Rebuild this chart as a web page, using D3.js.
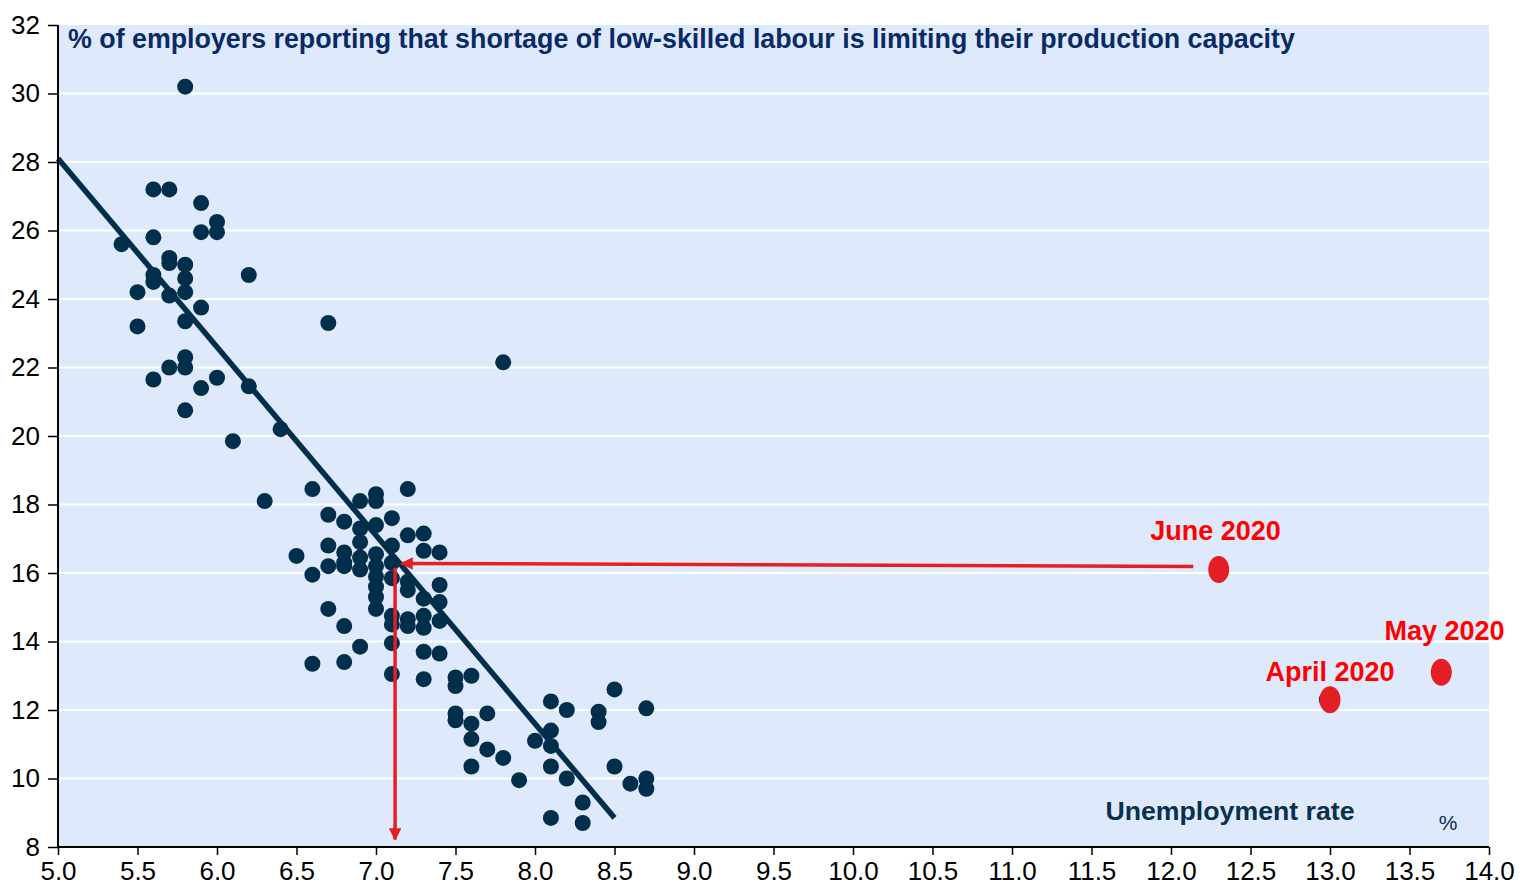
<!DOCTYPE html>
<html>
<head>
<meta charset="utf-8">
<script src="https://d3js.org/d3.v7.min.js"></script>
<style>
  body { margin: 0; background: #fff; }
  svg { font-family: "Liberation Sans", Arial, sans-serif; }
</style>
</head>
<body>
<svg id="chart" width="1530" height="886"></svg>
<script>
// unemployment rate (%) and % of employers reporting shortage, monthly history
var unemp = [5.8, 5.6, 5.7, 5.9, 6.0, 6.0, 5.9, 5.4, 5.6, 5.7, 5.7, 5.8, 5.6, 5.6, 5.8,
  5.5, 5.7, 5.8, 5.9, 5.8, 5.5, 6.2, 6.7, 5.8, 5.8, 5.7, 5.6, 6.0, 5.9, 6.2,
  5.8, 6.1, 6.4, 6.3, 7.8, 6.6, 7.2, 7.0, 7.0, 6.9, 6.7, 6.8, 7.1, 7.0, 6.9,
  7.3, 7.2, 6.9, 7.1, 6.7, 6.8, 7.3, 7.4, 7.0, 6.5, 6.9, 6.8, 6.7, 6.8, 6.9,
  7.0, 7.1, 6.6, 7.0, 7.1, 7.2, 7.0, 7.2, 7.4, 7.0, 7.3, 7.4, 6.7, 7.0, 7.1,
  7.2, 7.3, 7.4, 7.1, 7.2, 7.3, 6.8, 7.1, 6.9, 7.3, 7.4, 6.6, 6.8, 7.1, 7.5,
  7.6, 7.3, 7.5, 7.5, 7.5, 7.7, 7.6, 7.6, 7.7, 7.8, 7.6, 7.9, 8.0, 8.1, 8.1,
  8.1, 8.2, 8.1, 8.2, 8.4, 8.4, 8.5, 8.7, 8.5, 8.6, 8.7, 8.7, 8.3, 8.1, 8.3, 12.98];
var shortage = [30.2, 27.2, 27.2, 26.8, 26.25, 25.95, 25.95, 25.6, 25.8, 25.2, 25.05, 25.0, 24.7, 24.5, 24.6,
  24.2, 24.1, 24.2, 23.75, 23.35, 23.2, 24.7, 23.3, 22.3, 22.0, 22.0, 21.65, 21.7, 21.4, 21.45,
  20.75, 19.85, 20.2, 18.1, 22.15, 18.45, 18.45, 18.3, 18.1, 18.1, 17.7, 17.5, 17.6, 17.4, 17.3,
  17.15, 17.1, 16.9, 16.8, 16.8, 16.6, 16.65, 16.6, 16.55, 16.5, 16.45, 16.3, 16.2, 16.2, 16.1,
  16.2, 16.3, 15.95, 15.9, 15.85, 15.75, 15.6, 15.5, 15.65, 15.3, 15.25, 15.15, 14.95, 14.95, 14.75,
  14.65, 14.75, 14.6, 14.5, 14.45, 14.4, 14.45, 13.95, 13.85, 13.7, 13.65, 13.35, 13.4, 13.05, 12.95,
  13.0, 12.9, 12.7, 11.9, 11.7, 11.9, 11.6, 11.15, 10.85, 10.6, 10.35, 9.95, 11.1, 11.4, 10.95,
  12.25, 12.0, 10.35, 10.0, 11.95, 11.65, 12.6, 12.05, 10.35, 9.85, 10.0, 9.7, 9.3, 8.85, 8.7, 12.3];

// 2020 months highlighted in red
var months = ["April 2020", "May 2020", "June 2020"];
var monthUnemp = [13.0, 13.7, 12.3];
var monthShortage = [12.3, 13.1, 16.1];
var monthLabelX = [13.0, 13.72, 12.28];
var monthLabelY = [12.85, 14.05, 16.95];

// fitted trend line end points
var trendX = [5.0, 8.5];
var trendY = [28.1, 8.85];

// arrows from June 2020 back to the trend line and down to the x axis
var arrowX1 = [12.14, 7.12];
var arrowY1 = [16.19, 16.15];
var arrowX2 = [7.16, 7.12];
var arrowY2 = [16.28, 8.22];

var xTicks = d3.range(5, 14.01, 0.5);
var yTicks = d3.range(8, 32.01, 2);

var plotLeft = 58, plotRight = 1489, plotTop = 25, plotBottom = 847;
var x = d3.scaleLinear().domain([5, 14]).range([plotLeft, plotRight]);
var y = d3.scaleLinear().domain([8, 32]).range([plotBottom, plotTop]);

var svg = d3.select("#chart");
var navy = "#002f4b";
var red = "#e31e24";

svg.append("rect")
  .attr("x", plotLeft).attr("y", plotTop)
  .attr("width", plotRight - plotLeft).attr("height", plotBottom - plotTop)
  .attr("fill", "#deeafb");

svg.append("g").selectAll("line")
  .data(yTicks.filter(function(d){ return d > 8 && d < 32; }))
  .enter().append("line")
  .attr("x1", plotLeft).attr("x2", plotRight)
  .attr("y1", function(d){ return y(d); }).attr("y2", function(d){ return y(d); })
  .attr("stroke", "#fff").attr("stroke-width", 2);

svg.append("g").selectAll("circle")
  .data(unemp)
  .enter().append("circle")
  .attr("cx", function(d){ return x(d); })
  .attr("cy", function(d, i){ return y(shortage[i]); })
  .attr("r", 8)
  .attr("fill", navy);

svg.append("line")
  .attr("x1", x(trendX[0])).attr("y1", y(trendY[0]))
  .attr("x2", x(trendX[1])).attr("y2", y(trendY[1]))
  .attr("stroke", navy).attr("stroke-width", 5.5);

var defs = svg.append("defs");
defs.append("marker")
  .attr("id", "head")
  .attr("viewBox", "0 0 10 10")
  .attr("refX", 9).attr("refY", 5)
  .attr("markerWidth", 4.2).attr("markerHeight", 3.6)
  .attr("markerUnits", "strokeWidth")
  .attr("orient", "auto")
  .append("path").attr("d", "M0,0 L10,5 L0,10 Z").attr("fill", red);

svg.append("g").selectAll("line")
  .data(arrowX1)
  .enter().append("line")
  .attr("x1", function(d){ return x(d); })
  .attr("y1", function(d, i){ return y(arrowY1[i]); })
  .attr("x2", function(d, i){ return x(arrowX2[i]); })
  .attr("y2", function(d, i){ return y(arrowY2[i]); })
  .attr("stroke", red).attr("stroke-width", 3.5)
  .attr("marker-end", "url(#head)");

svg.append("g").selectAll("ellipse")
  .data(monthUnemp)
  .enter().append("ellipse")
  .attr("cx", function(d){ return x(d); })
  .attr("cy", function(d, i){ return y(monthShortage[i]); })
  .attr("rx", 10.5).attr("ry", 13.5)
  .attr("fill", red);

svg.append("g").selectAll("text")
  .data(months)
  .enter().append("text")
  .attr("x", function(d, i){ return x(monthLabelX[i]); })
  .attr("y", function(d, i){ return y(monthLabelY[i]); })
  .attr("text-anchor", "middle")
  .attr("font-size", 27).attr("font-weight", "bold")
  .attr("fill", "#ff0000")
  .text(function(d){ return d; });

// axes
var yAxis = svg.append("g")
  .attr("transform", "translate(" + plotLeft + ",0)")
  .call(d3.axisLeft(y).tickValues(yTicks).tickFormat(d3.format("d")).tickSize(10).tickPadding(8));
var xAxis = svg.append("g")
  .attr("transform", "translate(0," + plotBottom + ")")
  .call(d3.axisBottom(x).tickValues(xTicks).tickFormat(d3.format(".1f")).tickSize(8).tickPadding(7));
[yAxis, xAxis].forEach(function(a){
  a.select(".domain").attr("stroke", "#000").attr("stroke-width", 2);
  a.selectAll(".tick line").attr("stroke", "#000").attr("stroke-width", 1.5);
  a.selectAll("text").attr("font-size", 26).attr("fill", "#000")
    .attr("font-family", "Liberation Sans, Arial, sans-serif");
});
yAxis.select(".domain").attr("d", "M0," + plotTop + "V" + plotBottom);
xAxis.select(".domain").attr("d", "M" + plotLeft + ",0H" + plotRight);

svg.append("text")
  .attr("x", 68).attr("y", 48)
  .attr("font-size", 26.8).attr("font-weight", "bold")
  .attr("fill", "#0a2a66")
  .text("% of employers reporting that shortage of low-skilled labour is limiting their production capacity");

svg.append("text")
  .attr("x", 1230).attr("y", 820)
  .attr("text-anchor", "middle")
  .attr("font-size", 26.7).attr("font-weight", "bold")
  .attr("fill", "#0a3050")
  .text("Unemployment rate");

svg.append("text")
  .attr("x", 1448).attr("y", 830)
  .attr("text-anchor", "middle")
  .attr("font-size", 21)
  .attr("fill", "#0a2a50")
  .text("%");
</script>
</body>
</html>
